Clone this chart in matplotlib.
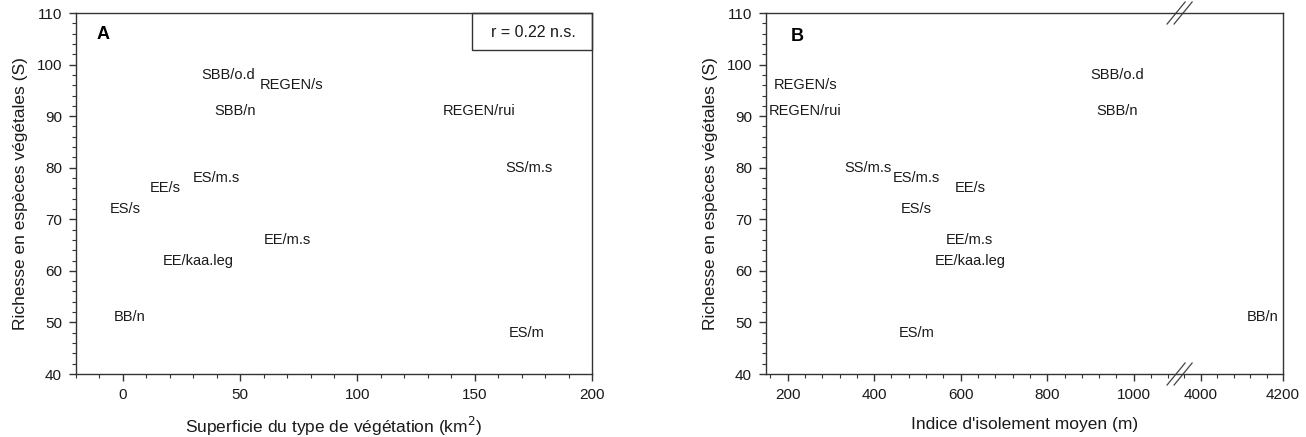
import numpy as np
import matplotlib
matplotlib.use("Agg")
import matplotlib.pyplot as plt
from matplotlib.ticker import FixedLocator, MultipleLocator
from matplotlib.patches import Rectangle
from matplotlib.lines import Line2D

plt.rcParams['font.family'] = ['Liberation Sans', 'DejaVu Sans']

# ---- data ----
labels = ['SBB/o.d', 'REGEN/s', 'SBB/n', 'REGEN/rui', 'ES/m.s', 'SS/m.s',
          'EE/s', 'ES/s', 'EE/m.s', 'EE/kaa.leg', 'BB/n', 'ES/m']
richness = [98, 96, 91, 91, 78, 80, 76, 72, 66, 62, 51, 48]
area_km2 = [45, 72, 48, 152, 40, 173, 18, 1, 70, 32, 3, 172]
isolation_m = [961, 242, 961, 240, 498, 385, 621, 498, 621, 621, 4150, 498]

xticks_A = [0, 50, 100, 150, 200]
xticks_B = [200, 400, 600, 800, 1000, 4000, 4200]
yticks = [40, 50, 60, 70, 80, 90, 100, 110]
r_text = 'r = 0.22 n.s.'

TXT = '#1a1a1a'
W, H = 1306, 437
fig = plt.figure(figsize=(W / 100, H / 100), dpi=100)
axA = fig.add_axes([76 / W, (H - 374) / H, 516 / W, 361 / H])
axB = fig.add_axes([766 / W, (H - 374) / H, 517 / W, 361 / H])

def style(ax):
    for s in ax.spines.values():
        s.set_linewidth(1.0)
        s.set_color('#333333')
    ax.tick_params(which='major', direction='out', length=5, width=1,
                   labelsize=11, colors='#333333', labelcolor=TXT, pad=5)
    ax.tick_params(which='minor', direction='out', length=3, width=0.8,
                   colors='#333333')
    ax.set_ylim(40, 110)
    ax.yaxis.set_major_locator(FixedLocator(yticks))
    ax.yaxis.set_minor_locator(MultipleLocator(2))
    ax.set_ylabel('Richesse en espèces végétales (S)', fontsize=12.5,
                  color=TXT, labelpad=6)

# ---- Panel A ----
style(axA)
axA.set_xlim(-20, 200)
axA.xaxis.set_major_locator(FixedLocator(xticks_A))
axA.xaxis.set_minor_locator(MultipleLocator(10))
for lab, x, y in zip(labels, area_km2, richness):
    axA.text(x, y, lab, ha='center', va='center', fontsize=10.5, color=TXT)
axA.set_xlabel('Superficie du type de végétation (km$^2$)', fontsize=12.5,
               color=TXT, labelpad=9.5)
axA.text(0.04, 0.94, 'A', transform=axA.transAxes, fontsize=13,
         fontweight='bold', ha='left', va='center', color='black')
axA.add_patch(Rectangle((0.767, 0.8975), 0.233, 0.1025, transform=axA.transAxes,
                        fill=False, edgecolor='#333333', linewidth=1.0,
                        clip_on=False))
axA.text(0.886, 0.947, r_text, transform=axA.transAxes, fontsize=11.5,
         ha='center', va='center', color=TXT)

# ---- Panel B (broken x axis via a function scale) ----
def fwd(x):
    x = np.asarray(x, dtype=float)
    return np.where(x < 2000, x, 1155 + (x - 4000) * 0.95)

def inv(u):
    u = np.asarray(u, dtype=float)
    return np.where(u < 1130, u, 4000 + (u - 1155) / 0.95)

style(axB)
axB.set_xscale('function', functions=(fwd, inv))
axB.set_xlim(150, 4200)
axB.xaxis.set_major_locator(FixedLocator(xticks_B))
axB.xaxis.set_major_formatter(plt.FuncFormatter(lambda v, p: f'{v:.0f}'))
minorB = list(range(160, 1100, 40)) + list(range(3960, 4201, 40))
axB.xaxis.set_minor_locator(FixedLocator(minorB))
for lab, x, y in zip(labels, isolation_m, richness):
    axB.text(x, y, lab, ha='center', va='center', fontsize=10.5, color=TXT)
axB.set_xlabel("Indice d'isolement moyen (m)", fontsize=12.5, color=TXT,
               labelpad=11)
axB.text(0.06, 0.935, 'B', transform=axB.transAxes, fontsize=13,
         fontweight='bold', ha='center', va='center', color='black')

# break marks "//" on bottom and top spines
fig.canvas.draw()
bx = axB.transAxes.inverted().transform(axB.transData.transform((1106, 50)))[0]
dx = 9 / 517
dy = 11 / 361
off = 7 / 517
for yb in (0.0, 1.0):
    for o in (-off / 2, off / 2):
        axB.add_line(Line2D([bx + o - dx, bx + o + dx], [yb - dy, yb + dy],
                            transform=axB.transAxes, color='#444444',
                            linewidth=0.9, clip_on=False))

fig.savefig('out.png', dpi=100)
